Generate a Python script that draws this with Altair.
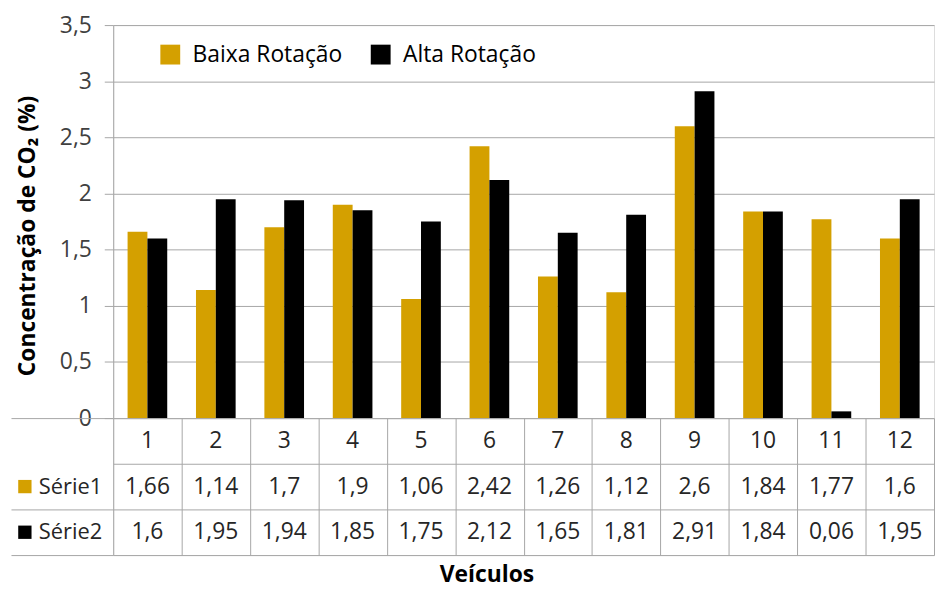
import altair as alt
import pandas as pd

veiculos = [str(i) for i in range(1, 13)]
serie1 = [1.66, 1.14, 1.7, 1.9, 1.06, 2.42, 1.26, 1.12, 2.6, 1.84, 1.77, 1.6]
serie2 = [1.6, 1.95, 1.94, 1.85, 1.75, 2.12, 1.65, 1.81, 2.91, 1.84, 0.06, 1.95]
nomes = ["Baixa Rotação", "Alta Rotação"]
linhas_tabela = ["Série1", "Série2"]
y_ticks = [0, 0.5, 1, 1.5, 2, 2.5, 3, 3.5]

FONT = "Open Sans"
FS = 23
GRID = "#a6a6a6"
GOLD = "#D4A000"
W, H_TOP, H_TAB = 827, 396, 138

rows = []
for v, a, b in zip(veiculos, serie1, serie2):
    rows.append({"veh": v, "serie": nomes[0], "valor": a})
    rows.append({"veh": v, "serie": nomes[1], "valor": b})
df = pd.DataFrame(rows)

trows = []
for v, a, b in zip(veiculos, serie1, serie2):
    trows.append({"veh": v, "linha": "cat", "txt": v})
    trows.append({"veh": v, "linha": "Série1", "txt": str(a).replace(".", ",")})
    trows.append({"veh": v, "linha": "Série2", "txt": str(b).replace(".", ",")})
tdf = pd.DataFrame(trows)

todas_linhas = ["cat"] + linhas_tabela
lab_df = pd.DataFrame({"linha": linhas_tabela, "cor": [GOLD, "#000000"]})

x_scale = alt.Scale(domain=veiculos, paddingInner=0, paddingOuter=0)
y_tab_scale = alt.Scale(domain=todas_linhas, paddingInner=0, paddingOuter=0)

bars = alt.Chart(df).mark_bar().encode(
    x=alt.X("veh:N", sort=veiculos, scale=x_scale, axis=None),
    xOffset=alt.XOffset("serie:N", sort=nomes,
                        scale=alt.Scale(domain=nomes, paddingInner=0, paddingOuter=0.725)),
    y=alt.Y("valor:Q", scale=alt.Scale(domain=[0, 3.5], nice=False),
            axis=alt.Axis(values=y_ticks,
                          labelExpr="replace(format(datum.value, '.1~f'), '.', ',')",
                          title="Concentração de CO₂ (%)", titleFont=FONT, titleFontSize=FS,
                          titleFontWeight="bold", titleColor="#000000", titlePadding=20,
                          titleY=212,
                          labelFont=FONT, labelFontSize=FS, labelColor="#404040",
                          labelPadding=13, tickSize=9, tickColor=GRID, domainColor=GRID,
                          gridColor=GRID, grid=True)),
    color=alt.Color("serie:N", sort=nomes,
                    scale=alt.Scale(domain=nomes, range=[GOLD, "#000000"]),
                    legend=alt.Legend(title=None, orient="none", legendX=46, legendY=18,
                                      direction="horizontal", symbolType="square",
                                      symbolSize=400, symbolStrokeWidth=0,
                                      labelFont=FONT, labelFontSize=FS, labelColor="#000000",
                                      labelOffset=11, columnPadding=27)),
)

top = bars.properties(width=W, height=H_TOP)

table_text = alt.Chart(tdf).mark_text(font=FONT, fontSize=FS, color="#262626").encode(
    x=alt.X("veh:N", sort=veiculos, scale=x_scale,
            axis=alt.Axis(title="Veículos", labels=False, ticks=False, domain=False, grid=True,
                          tickBand="extent", gridColor=GRID,
                          titleFont=FONT, titleFontSize=FS,
                          titleFontWeight="bold", titleColor="#000000", titlePadding=9,
                          titleX=376)),
    y=alt.Y("linha:N", sort=todas_linhas, scale=y_tab_scale,
            axis=alt.Axis(title=None, labels=False, domain=False, grid=True, tickBand="extent",
                          gridColor=GRID, ticks=True, tickSize=103, tickColor=GRID,
                          tickOpacity={"condition": {"test": "datum.value === 'cat'", "value": 0},
                                       "value": 1})),
    text="txt:N",
)

row_labels = alt.Chart(lab_df).mark_text(font=FONT, fontSize=22, color="#262626", align="left").encode(
    x=alt.value(-75),
    y=alt.Y("linha:N", sort=todas_linhas, scale=y_tab_scale),
    text="linha:N",
)

row_squares = alt.Chart(lab_df).mark_point(shape="square", filled=True, opacity=1, size=180).encode(
    x=alt.value(-89),
    y=alt.Y("linha:N", sort=todas_linhas, scale=y_tab_scale),
    color=alt.Color("cor:N", scale=None),
)

bottom = alt.layer(table_text, row_labels, row_squares).properties(width=W, height=H_TAB)

chart = alt.vconcat(top, bottom, spacing=0, bounds="flush").properties(
    padding={"left": 2, "right": 0, "top": 3, "bottom": 0}
).configure_view(stroke=None).configure(background="white")

chart.save("out.html", embed_options={"renderer": "svg", "actions": False})
